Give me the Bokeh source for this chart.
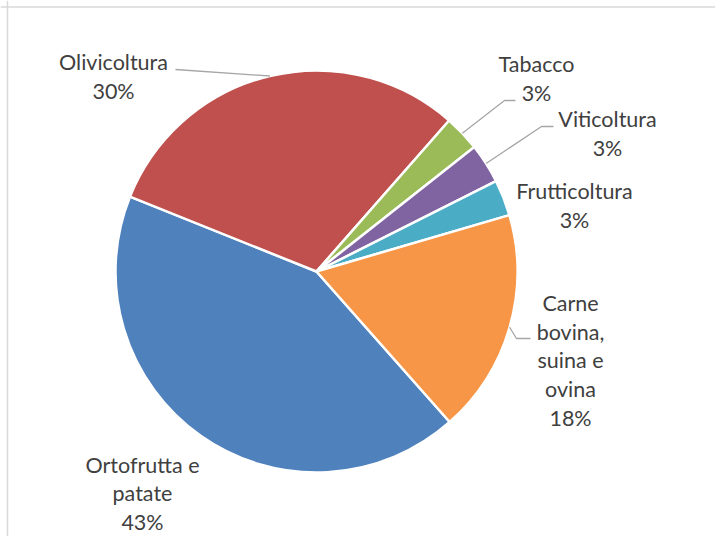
import math
from bokeh.plotting import figure
from bokeh.models import Range1d, Span, ColumnDataSource
from bokeh.core.properties import value
from bokeh.embed import file_html
from bokeh.resources import INLINE

# ---- data ----
categories = ["Ortofrutta e patate", "Olivicoltura", "Tabacco", "Viticoltura",
              "Frutticoltura", "Carne bovina, suina e ovina"]
display_names = ["Ortofrutta e\npatate", "Olivicoltura", "Tabacco", "Viticoltura",
                 "Frutticoltura", "Carne\nbovina,\nsuina e\novina"]
shares = [42.6, 30.4, 2.9, 3.2, 2.9, 18.0]
colors = ["#4F81BD", "#C0504D", "#9BBB59", "#8064A2", "#4BACC6", "#F79646"]

# ---- layout (reference pixels) ----
W, H = 715, 536
first_slice_deg = 138.5
center_ref = (316, 271)
radius = 201
label_pos_ref = [(142, 493), (113, 76), (536, 78), (607, 133), (574, 205), (570, 360)]
leader_pts_ref = [None, [(175, 69)], [(504, 100), (515, 100)], [(541, 126), (553, 126)],
                  None, [(516, 338), (530, 338)]]
FONT = "Lato"
FS = "21.5px"
TXT = "#404040"


def px(x):
    return x


def py(y):
    return H - y


cx, cy = px(center_ref[0]), py(center_ref[1])

p = figure(width=W, height=H, x_range=Range1d(0, W), y_range=Range1d(0, H),
           output_backend="svg", toolbar_location=None, min_border=0)
p.axis.visible = False
p.grid.visible = False
p.outline_line_color = None
p.background_fill_color = "white"

total = sum(shares)
starts, ends, mids = [], [], []
acc = first_slice_deg
for s in shares:
    a0 = acc
    a1 = acc + s / total * 360.0
    starts.append(math.radians(90 - a0))
    ends.append(math.radians(90 - a1))
    mids.append((a0 + a1) / 2)
    acc = a1

src = ColumnDataSource(dict(start=starts, end=ends, color=colors, name=categories))
p.wedge(x=cx, y=cy, radius=radius, start_angle="start", end_angle="end",
        direction="clock", fill_color="color", line_color="white", line_width=2.5,
        source=src)

# leader lines
for i, pts in enumerate(leader_pts_ref):
    if not pts:
        continue
    m = math.radians(mids[i])
    ex = cx + radius * math.sin(m)
    ey = cy + radius * math.cos(m)
    xs = [ex] + [px(a) for a, b in pts]
    ys = [ey] + [py(b) for a, b in pts]
    p.line(xs, ys, line_color="#A6A6A6", line_width=1.3)

# labels
texts = [f"{n}\n{round(s / total * 100)}%" for n, s in zip(display_names, shares)]
lsrc = ColumnDataSource(dict(x=[px(a) for a, b in label_pos_ref],
                             y=[py(b) for a, b in label_pos_ref], t=texts))
p.text(x="x", y="y", text="t", source=lsrc, text_align="center", text_baseline="middle",
       text_font=value(FONT), text_font_size=FS, text_color=TXT, text_line_height=1.11)

# chart border (top and left visible in the crop)
p.add_layout(Span(location=px(7), dimension="height", line_color="#D9D9D9", line_width=1.5))
p.add_layout(Span(location=py(6.5), dimension="width", line_color="#D9D9D9", line_width=1.5))

open("out.html", "w").write(file_html(p, INLINE))
